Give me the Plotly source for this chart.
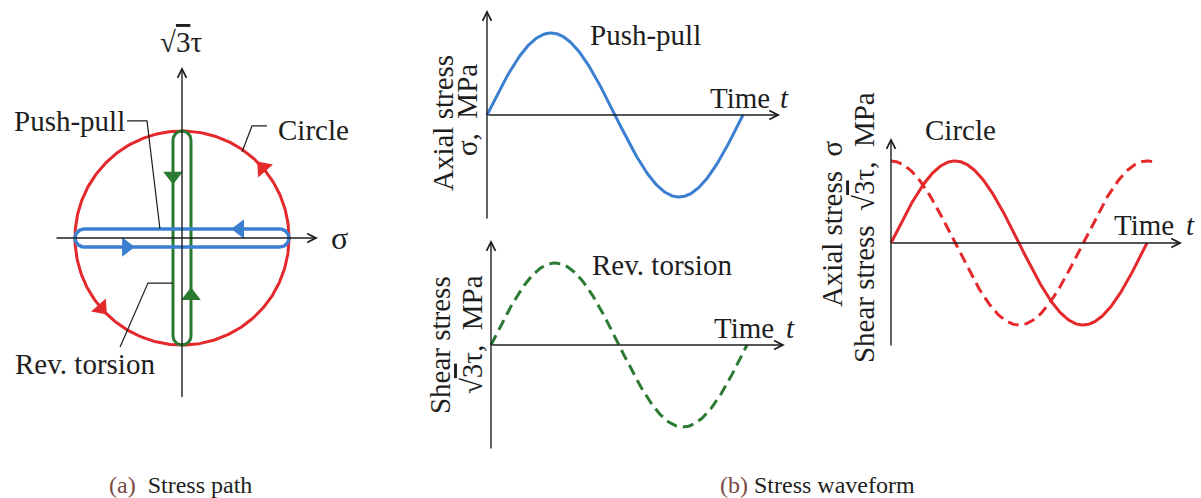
import numpy as np
import plotly.graph_objects as go

W, H = 1201, 498
FONT = "Liberation Serif"
INK = "#1e1e1e"
BLUE = "#3b7fd1"
GREEN = "#2b7a31"
RED = "#e4282b"
CAPTION_TAG = "#7a4a44"

# ---- loading cases (normalised amplitudes) ----
cases = ["Push-pull", "Rev. torsion", "Circle"]
sigma_amp = [1.0, 0.0, 1.0]          # axial stress amplitude
tau_amp = [0.0, 1.0, 1.0]            # sqrt(3)*shear stress amplitude
tau_phase_deg = [0.0, 0.0, 90.0]     # shear phase relative to axial
case_colors = [BLUE, GREEN, RED]
loop_half_width = 0.084              # drawn thickness of the straight paths

# direction markers along the stress paths
pp_arrow_sigma = [0.54, -0.52]       # push-pull: upper leg (to the left), lower leg (to the right)
rt_arrow_tau = [0.58, -0.54]         # torsion: left leg (down), right leg (up)
circle_arrow_deg = [41.0, 221.0]     # circle: counter-clockwise

# time axis of the waveforms (in cycles)
t_cycle = np.linspace(0.0, 1.0, 241)
circle_tau_t_end = 1.02

# ---- panel geometry: pixel box, pixel origin, pixels per unit ----
panels = {
    "path": dict(box=(0, 20, 380, 420), origin=(182, 238), sx=107, sy=107),
    "pp":   dict(box=(420, 0, 800, 230), origin=(487, 115), sx=256, sy=82),
    "rt":   dict(box=(420, 230, 800, 460), origin=(491, 345), sx=256, sy=82),
    "ci":   dict(box=(815, 60, 1201, 400), origin=(891, 243), sx=256, sy=82),
}
# axis arrows per panel: (x tail, x tip), (y tail, y tip)
axis_x = {"path": (-1.187, 1.271), "pp": (0, 1.145), "rt": (0, 1.148), "ci": (0, 1.137)}
axis_y = {"path": (-1.50, 1.598), "pp": (-1.28, 1.28), "rt": (-1.28, 1.28), "ci": (-1.268, 1.28)}

fig = go.Figure()
layout = dict(width=W, height=H, margin=dict(l=0, r=0, t=0, b=0),
              paper_bgcolor="white", plot_bgcolor="rgba(0,0,0,0)",
              showlegend=False, autosize=False)
refs = {}
for i, (key, p) in enumerate(panels.items(), start=1):
    x0, y0, x1, y1 = p["box"]
    ox, oy = p["origin"]
    sfx = "" if i == 1 else str(i)
    layout["xaxis" + sfx] = dict(domain=[x0 / W, x1 / W],
                                 range=[(x0 - ox) / p["sx"], (x1 - ox) / p["sx"]],
                                 visible=False, fixedrange=True, anchor="y" + sfx)
    layout["yaxis" + sfx] = dict(domain=[1 - y1 / H, 1 - y0 / H],
                                 range=[(oy - y1) / p["sy"], (oy - y0) / p["sy"]],
                                 visible=False, fixedrange=True, anchor="x" + sfx)
    refs[key] = ("x" + sfx, "y" + sfx)
fig.update_layout(**layout)

annotations = []


def line(key, x, y, color, width, dash="solid"):
    xr, yr = refs[key]
    fig.add_trace(go.Scatter(x=x, y=y, mode="lines", xaxis=xr, yaxis=yr,
                             line=dict(color=color, width=width, dash=dash),
                             hoverinfo="skip"))


def marker(key, x, y, color, symbol, angle=0, size=17):
    xr, yr = refs[key]
    fig.add_trace(go.Scatter(x=x, y=y, mode="markers", xaxis=xr, yaxis=yr,
                             marker=dict(color=color, symbol=symbol, angle=angle, size=size,
                                         line=dict(width=0)),
                             hoverinfo="skip"))


def text(key, x, y, s, size=29, anchor="left", angle=0, italic=False, color=INK):
    xr, yr = refs[key]
    annotations.append(dict(x=x, y=y, xref=xr, yref=yr, text=s, showarrow=False,
                            xanchor=anchor, yanchor="middle", textangle=angle,
                            font=dict(family=FONT, size=size, color=color,
                                      style="italic" if italic else "normal")))


def axis_arrows(key):
    xr, yr = refs[key]
    for (tx, ty, hx, hy) in [(axis_x[key][0], 0, axis_x[key][1], 0),
                             (0, axis_y[key][0], 0, axis_y[key][1])]:
        annotations.append(dict(x=hx, y=hy, ax=tx, ay=ty, xref=xr, yref=yr,
                                axref=xr, ayref=yr, text="", showarrow=True,
                                arrowhead=5, arrowsize=1.25, arrowwidth=1.4,
                                arrowcolor=INK, standoff=0))


def stadium(x_half, y_half, r, n=60):
    """Closed outline of a rounded loop spanning +-x_half by +-y_half."""
    if x_half >= y_half:
        cx = x_half - r
        a1 = np.linspace(-np.pi / 2, np.pi / 2, n)
        a2 = np.linspace(np.pi / 2, 3 * np.pi / 2, n)
        xs = np.concatenate([cx + r * np.cos(a1), -cx + r * np.cos(a2), [cx]])
        ys = np.concatenate([r * np.sin(a1), r * np.sin(a2), [-r]])
    else:
        cy = y_half - r
        a1 = np.linspace(0, np.pi, n)
        a2 = np.linspace(np.pi, 2 * np.pi, n)
        xs = np.concatenate([r * np.cos(a1), r * np.cos(a2), [r]])
        ys = np.concatenate([cy + r * np.sin(a1), -cy + r * np.sin(a2), [cy]])
    return xs, ys


# ================= (a) stress path =================
th = np.linspace(0, 2 * np.pi, 361)
line("path", sigma_amp[2] * np.cos(th), tau_amp[2] * np.sin(th), RED, 3)

gx, gy = stadium(loop_half_width, tau_amp[1], loop_half_width)
line("path", gx, gy, GREEN, 3)
bx, by = stadium(sigma_amp[0], loop_half_width, loop_half_width)
line("path", bx, by, BLUE, 3.5)

marker("path", [pp_arrow_sigma[0]], [loop_half_width], BLUE, "triangle-left")
marker("path", [pp_arrow_sigma[1]], [-loop_half_width], BLUE, "triangle-right")
marker("path", [-loop_half_width], [rt_arrow_tau[0]], GREEN, "triangle-down")
marker("path", [loop_half_width], [rt_arrow_tau[1]], GREEN, "triangle-up")
for d in circle_arrow_deg:
    r = np.radians(d)
    marker("path", [np.cos(r)], [np.sin(r)], RED, "triangle-up", angle=-d)

# leader lines
line("path", [-0.514, -0.327, -0.206], [1.094, 1.094, loop_half_width], INK, 1.2)
line("path", [0.794, 0.654, 0.561], [1.047, 1.047, 0.804], INK, 1.2)
line("path", [-0.579, -0.318, -loop_half_width], [-1.019, -0.421, -0.421], INK, 1.2)

axis_arrows("path")
text("path", -1.59, 1.094, "Push-pull")
text("path", 0.88, 1.01, "Circle")
text("path", -1.58, -1.173, "Rev. torsion")
text("path", -0.01, 1.834, "√<span style='text-decoration:overline'>3</span>τ", anchor="center")
text("path", 1.47, 0.0, "σ", size=32, anchor="center")

# ================= (b) stress waveforms =================
ph = np.radians(tau_phase_deg)
# push-pull: axial stress only
line("pp", t_cycle, sigma_amp[0] * np.sin(2 * np.pi * t_cycle), BLUE, 3)
axis_arrows("pp")
text("pp", 0.395, 0.976, "Push-pull")
text("pp", 0.863, 0.207, "Time")
text("pp", 1.164, 0.207, "t", italic=True, anchor="center")
text("pp", -0.172, -0.098, "Axial stress", angle=-90, anchor="center")
text("pp", -0.078, 0.061, "σ,\u00a0\u00a0MPa", angle=-90, anchor="center")

# reversed torsion: shear stress only
line("rt", t_cycle, tau_amp[1] * np.sin(2 * np.pi * t_cycle + ph[1]), GREEN, 3, dash="11px,6px")
axis_arrows("rt")
text("rt", 0.387, 0.976, "Rev. torsion")
text("rt", 0.863, 0.207, "Time")
text("rt", 1.168, 0.207, "t", italic=True, anchor="center")
text("rt", -0.199, 0.0, "Shear stress", angle=-90, anchor="center")
text("rt", -0.074, 0.122, "√<span style='text-decoration:overline'>3</span>τ,\u00a0\u00a0MPa",
     angle=-90, anchor="center")

# circle: axial and shear 90 degrees out of phase
t_tau = np.linspace(0.0, circle_tau_t_end, 241)
line("ci", t_cycle, sigma_amp[2] * np.sin(2 * np.pi * t_cycle), RED, 3)
line("ci", t_tau, tau_amp[2] * np.sin(2 * np.pi * t_tau + ph[2]), RED, 3, dash="11px,6px")
axis_arrows("ci")
text("ci", 0.125, 1.378, "Circle")
text("ci", 0.863, 0.22, "Time")
text("ci", 1.168, 0.22, "t", italic=True, anchor="center")
text("ci", -0.230, 0.232, "Axial stress\u00a0\u00a0σ", angle=-90, anchor="center")
text("ci", -0.105, 0.183,
     "Shear stress\u00a0\u00a0√<span style='text-decoration:overline'>3</span>τ,\u00a0\u00a0MPa",
     angle=-90, anchor="center")

# ---- captions ----
for x_px, tag, label in [(107, "(a)", "\u00a0\u00a0Stress path"), (718, "(b)", "\u00a0Stress waveform")]:
    annotations.append(dict(x=x_px / W, y=1 - 485 / H, xref="paper", yref="paper",
                            xanchor="left", yanchor="middle", showarrow=False,
                            text=f"<span style='color:{CAPTION_TAG}'>{tag}</span>{label}",
                            font=dict(family=FONT, size=24, color=INK)))

fig.update_layout(annotations=annotations)
fig.write_html("out.html")
